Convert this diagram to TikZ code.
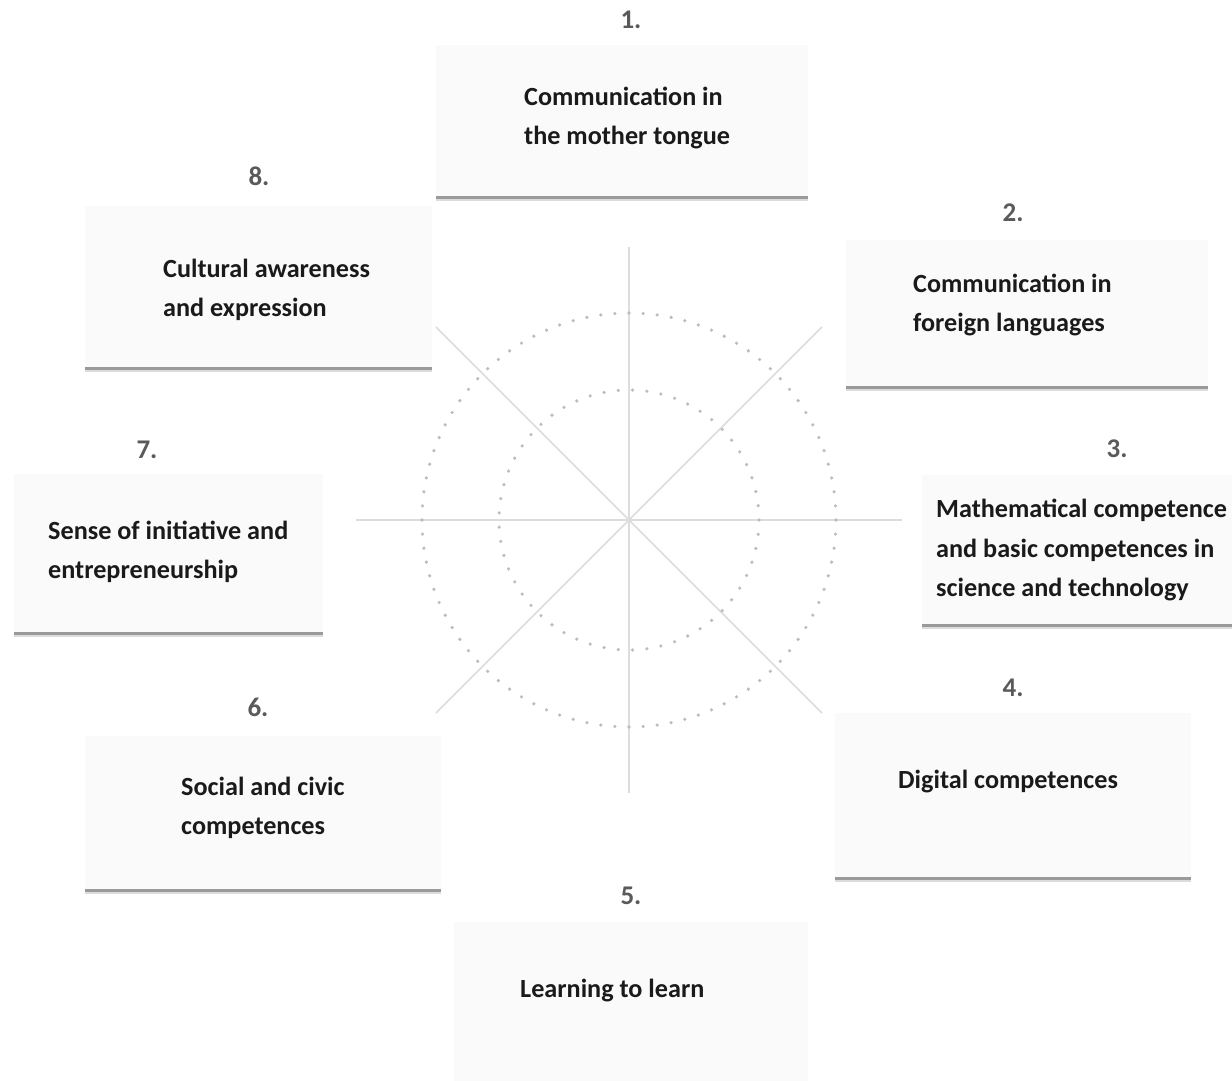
\documentclass[tikz,border=0pt]{standalone}
\usepackage{fontspec}
\setmainfont{Carlito}
\usepackage{tikz}

\definecolor{boxfill}{HTML}{FAFAFA}
\definecolor{boxline}{HTML}{9A9A9A}
\definecolor{spokegray}{HTML}{DCDCDC}
\definecolor{dotgray}{HTML}{BDBDBD}
\definecolor{numgray}{HTML}{5A5A5A}
\definecolor{txtgray}{HTML}{1A1A1A}

\begin{document}
\begin{tikzpicture}[x=1pt,y=-1pt,
		kbox/.style={rectangle, fill=boxfill, inner sep=0pt, anchor=north west},
		kline/.style={boxline, line width=2.5pt},
		kshadow/.style={boxline!35, line width=2pt},
		ktext/.style={anchor=west, align=left, inner sep=0pt, text=txtgray, font=\fontsize{26.2}{39.5}\selectfont\bfseries},
		knum/.style={text=numgray, inner sep=0pt, font=\fontsize{27}{27}\selectfont\bfseries},
		kspoke/.style={spokegray, line width=1.5pt},
		kdot/.style={fill=dotgray}]
		\useasboundingbox (0,0) rectangle (1232,1080);
		
		%Mitte mit Speichen und Punktkreisen
		\coordinate (c) at (629,520);
		\foreach \a in {0,45,...,315}
		\draw[kspoke] (c) -- ++(\a:273);
		\foreach \i in {1,...,92}
		\fill[kdot] (c) ++(360/92*\i:207) circle (1.8);
		\foreach \i in {1,...,57}
		\fill[kdot] (c) ++(360/57*\i:130) circle (1.8);
		
		%Kästen
		\node[kbox, minimum width=372pt, minimum height=152pt] (k1) at (436,45) {};
		\node[kbox, minimum width=362pt, minimum height=147pt] (k2) at (846,240) {};
		\node[kbox, minimum width=320pt, minimum height=150pt] (k3) at (922,475) {};
		\node[kbox, minimum width=356pt, minimum height=165pt] (k4) at (835,713) {};
		\node[kbox, minimum width=354pt, minimum height=170pt] (k5) at (454,922) {};
		\node[kbox, minimum width=356pt, minimum height=154pt] (k6) at (85,736) {};
		\node[kbox, minimum width=309pt, minimum height=159pt] (k7) at (14,474) {};
		\node[kbox, minimum width=347pt, minimum height=162pt] (k8) at (85,206) {};
		
		%untere Kanten (k5 ist abgeschnitten)
		\foreach \k in {k1,k2,k3,k4,k6,k7,k8}{
			\draw[kshadow] ([yshift=-2.5pt]\k.south west) -- ([yshift=-2.5pt]\k.south east);
			\draw[kline] (\k.south west) -- (\k.south east);
		}
		
		%Texte
		\node[ktext] (t1) at (524,118) {Communication in\\the mother tongue};
		\node[ktext] (t2) at (913,305) {Communication in\\foreign languages};
		\node[ktext] (t3) at (936,550) {Mathematical competence\\and basic competences in\\science and technology};
		\node[ktext] (t4) at (898,782) {Digital competences};
		\node[ktext] (t5) at (520,991) {Learning to learn};
		\node[ktext] (t6) at (181,808) {Social and civic\\competences};
		\node[ktext] (t7) at (48,552) {Sense of initiative and\\entrepreneurship};
		\node[ktext] (t8) at (163,290) {Cultural awareness\\and expression};
		
		%Nummern
		\node[knum] (n1) at (631,20) {1.};
		\node[knum] (n2) at (1013,213) {2.};
		\node[knum] (n3) at (1117,449) {3.};
		\node[knum] (n4) at (1013,688) {4.};
		\node[knum] (n5) at (631,896) {5.};
		\node[knum] (n6) at (258,707) {6.};
		\node[knum] (n7) at (147,450) {7.};
		\node[knum] (n8) at (259,176) {8.};
		
	\end{tikzpicture}
\end{document}
